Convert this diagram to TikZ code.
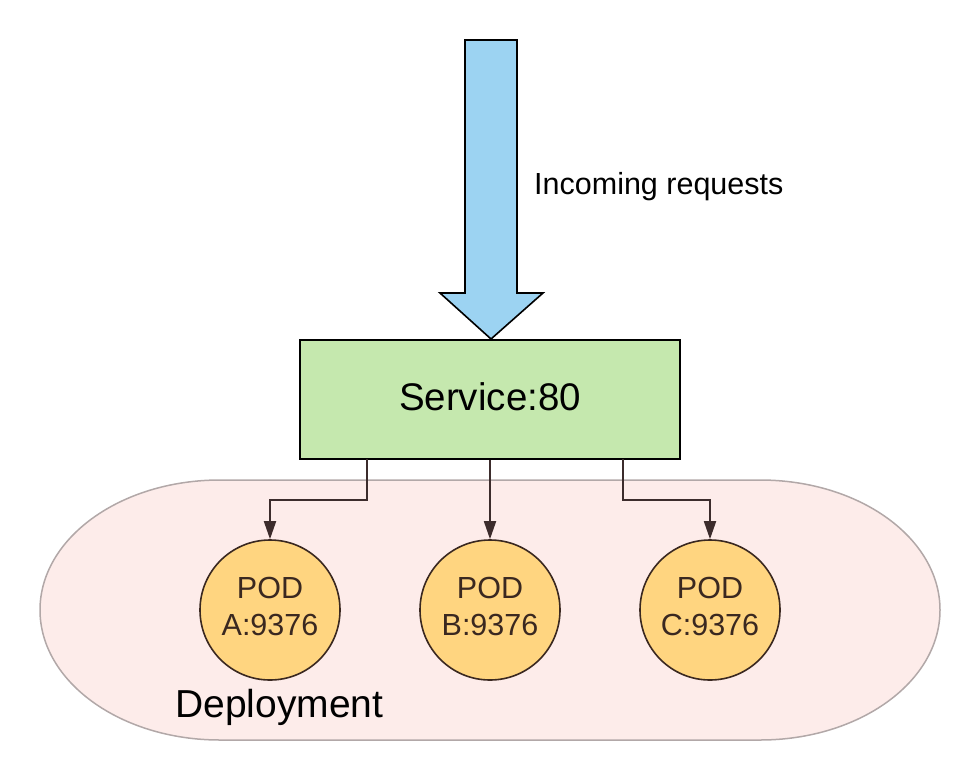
\documentclass[tikz,border=0pt]{standalone}
\usepackage{fontspec}
\setmainfont{Liberation Sans}
\usetikzlibrary{arrows.meta}
\definecolor{arrowblue}{RGB}{156,211,242}
\definecolor{svcgreen}{RGB}{197,232,174}
\definecolor{podfill}{RGB}{255,213,128}
\definecolor{podline}{RGB}{58,40,32}
\definecolor{depfill}{RGB}{253,236,234}
\definecolor{depline}{RGB}{178,168,168}
\definecolor{connline}{RGB}{60,44,44}
\newcommand{\podlabel}[1]{\raisebox{3pt}{\begin{tabular}{@{}c@{}}POD\\#1\end{tabular}}}
\tikzset{
  podnode/.style={circle, draw=podline, line width=1.6pt, fill=podfill, minimum size=140pt, inner sep=0pt,
    text=podline, font=\fontsize{30.5}{37}\selectfont},
  conn/.style={draw=connline, line width=1.8pt, -{Triangle[length=18pt,width=12pt]}},
}
\begin{document}
\begin{tikzpicture}[x=1pt,y=-1pt]
\useasboundingbox (0,0) rectangle (980,780);
% deployment shape
\draw[draw=depline, line width=1.5pt, fill=depfill]
  (220,480) -- (760,480) arc[start angle=270, end angle=450, x radius=180, y radius=130]
  -- (220,740) arc[start angle=90, end angle=270, x radius=180, y radius=130] -- cycle;
\node[anchor=west, font=\fontsize{39}{45}\selectfont, inner sep=0pt] (dep) at (175,707) {Deployment};
% service
\node[draw=black, line width=2pt, fill=svcgreen, minimum width=380pt, minimum height=119pt, inner sep=0pt,
  font=\fontsize{38.5}{45}\selectfont] (svc) at (490,399.5) {\raisebox{6pt}{Service:80}};
% incoming arrow
\draw[draw=black, line width=1.6pt, fill=arrowblue]
  (465,40) -- (517,40) -- (517,293) -- (543,293) -- (491,339) -- (440,293) -- (465,293) -- cycle;
\node[anchor=west, font=\fontsize{30.5}{36}\selectfont, inner sep=0pt] (inc) at (534,187) {Incoming requests};
% pods
\node[podnode] (a) at (270,610) {\podlabel{A:9376}};
\node[podnode] (b) at (490,610) {\podlabel{B:9376}};
\node[podnode] (c) at (710,610) {\podlabel{C:9376}};
% connectors
\coordinate (sa) at (367,459);
\coordinate (sc) at (623,459);
\draw[conn] (sa) -- (367,500) -| (a.north);
\draw[conn] (svc.south) -- (b.north);
\draw[conn] (sc) -- (623,500) -| (c.north);
\end{tikzpicture}
\end{document}
